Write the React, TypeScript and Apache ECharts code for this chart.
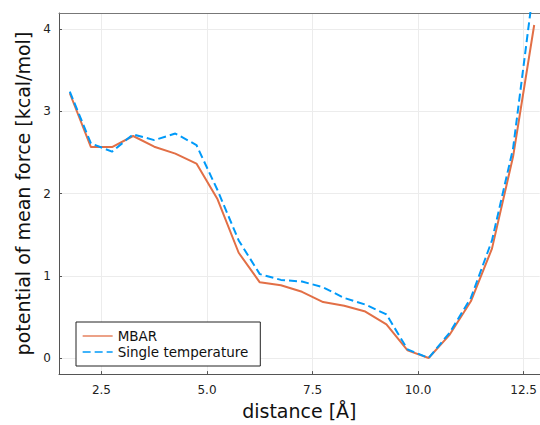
import React, { useEffect, useRef } from "react";
import * as echarts from "echarts";

const distance = [1.75, 2.25, 2.75, 3.25, 3.75, 4.25, 4.75, 5.25, 5.75, 6.25, 6.75, 7.25, 7.75, 8.25, 8.75, 9.25, 9.75, 10.25, 10.75, 11.25, 11.75, 12.25, 12.75];
const mbar = [3.22, 2.565, 2.565, 2.7, 2.57, 2.485, 2.365, 1.93, 1.28, 0.92, 0.885, 0.805, 0.68, 0.636, 0.565, 0.41, 0.092, 0.0, 0.285, 0.69, 1.33, 2.45, 4.05];
const singleTemp = [3.24, 2.61, 2.51, 2.72, 2.65, 2.73, 2.59, 2.04, 1.43, 1.02, 0.95, 0.93, 0.86, 0.73, 0.65, 0.53, 0.105, 0.0, 0.31, 0.73, 1.43, 2.55, 4.57];
const xTicks = [2.5, 5.0, 7.5, 10.0, 12.5];
const yTicks = [0, 1, 2, 3, 4];

const FONT = "DejaVu Sans";

export default function App() {
  const ref = useRef<HTMLDivElement>(null);
  useEffect(() => {
    if (!ref.current) return;
    const chart = echarts.init(ref.current, null, { renderer: "svg" });
    const toPairs = (ys: number[]) => distance.map((x, i) => [x, ys[i]]);
    chart.setOption({
      animation: false,
      backgroundColor: "#ffffff",
      textStyle: { fontFamily: FONT },
      grid: { left: 59, top: 13, right: 0, bottom: 46, containLabel: false },
      legend: {
        left: 76,
        top: 322,
        orient: "vertical",
        borderColor: "#222",
        borderWidth: 1,
        borderRadius: 0,
        backgroundColor: "#fff",
        padding: [7, 12, 7, 6],
        itemWidth: 30,
        itemHeight: 14,
        itemGap: 2,
        itemStyle: { opacity: 0 },
        lineStyle: { width: 1.3 },
        textStyle: { fontFamily: FONT, fontSize: 13.5, color: "#111" },
        data: ["MBAR", "Single temperature"],
      },
      xAxis: [
        {
          type: "value",
          min: 1.494,
          max: 12.88,
          name: "distance [Å]",
          nameLocation: "middle",
          nameGap: 26,
          nameTextStyle: { fontFamily: FONT, fontSize: 19, color: "#111", verticalAlign: "top" },
          axisLine: { show: true, onZero: false, lineStyle: { color: "#555", width: 1 } },
          axisTick: { show: true, inside: true, length: 3, customValues: xTicks, lineStyle: { color: "#555" } },
          axisLabel: {
            customValues: xTicks,
            margin: 10,
            fontFamily: FONT,
            fontSize: 12,
            color: "#222",
            formatter: (v: number) => v.toFixed(1),
          },
          splitLine: { show: true, lineStyle: { color: "#ececec", width: 1 } },
        },
        {
          type: "value",
          position: "top",
          min: 1.494,
          max: 12.88,
          axisLine: { show: true, onZero: false, lineStyle: { color: "#777", width: 1 } },
          axisTick: { show: false },
          axisLabel: { show: false },
          splitLine: { show: false },
        },
      ],
      yAxis: {
        type: "value",
        min: -0.196,
        max: 4.196,
        name: "potential of mean force [kcal/mol]",
        nameLocation: "middle",
        nameGap: 27,
        nameTextStyle: { fontFamily: FONT, fontSize: 19, color: "#111" },
        axisLine: { show: true, onZero: false, lineStyle: { color: "#555", width: 1 } },
        axisTick: { show: true, inside: true, length: 3, customValues: yTicks, lineStyle: { color: "#555" } },
        axisLabel: {
          customValues: yTicks,
          margin: 8,
          fontFamily: FONT,
          fontSize: 12,
          color: "#222",
          formatter: (v: number) => String(Math.round(v)),
        },
        splitLine: { show: true, lineStyle: { color: "#ececec", width: 1 } },
      },
      series: [
        {
          name: "MBAR",
          type: "line",
          data: toPairs(mbar),
          symbol: "none",
          showSymbol: false,
          clip: true,
          color: "#e26f46",
          lineStyle: { color: "#e26f46", width: 2 },
          z: 3,
        },
        {
          name: "Single temperature",
          type: "line",
          data: toPairs(singleTemp),
          symbol: "none",
          showSymbol: false,
          clip: true,
          color: "#009af9",
          lineStyle: { color: "#009af9", width: 2, type: [8, 4] },
          z: 4,
        },
      ],
    });
    return () => chart.dispose();
  }, []);
  return <div ref={ref} style={{ position: "absolute", left: 0, top: 0, width: 540, height: 425 }} />;
}
